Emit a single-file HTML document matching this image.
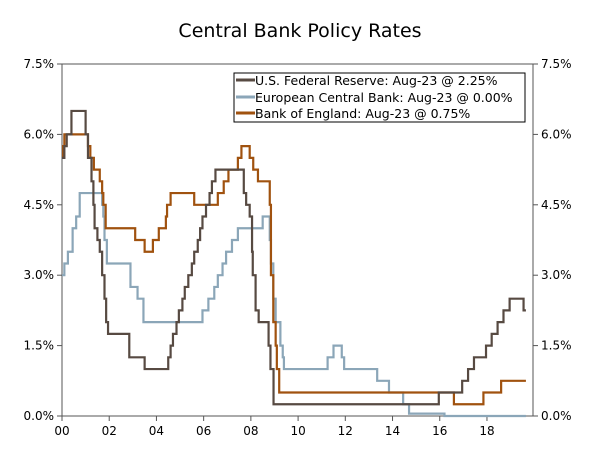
<!DOCTYPE html>
<html><head><meta charset="utf-8"><style>
body{margin:0;background:#fff;}
svg{display:block;font-family:"DejaVu Sans","Liberation Sans",sans-serif;}
</style></head><body>
<svg id="chart" width="600" height="452">
<text x="300" y="37" text-anchor="middle" font-size="19" fill="#000">Central Bank Policy Rates</text>
<g id="axes"></g>
<g id="lines"></g>
<g>
<rect x="234" y="73" width="291" height="49" fill="#fff" stroke="#000" stroke-width="1"/>
<line x1="236" y1="80" x2="255" y2="80" stroke="#574a42" stroke-width="3"/>
<text x="255" y="85" font-size="12.5">U.S. Federal Reserve: Aug-23 @ 2.25%</text>
<line x1="236" y1="97" x2="255" y2="97" stroke="#8ba6b8" stroke-width="3"/>
<text x="255" y="102" font-size="12.5">European Central Bank: Aug-23 @ 0.00%</text>
<line x1="236" y1="113" x2="255" y2="113" stroke="#a0520f" stroke-width="3"/>
<text x="255" y="118" font-size="12.5">Bank of England: Aug-23 @ 0.75%</text>
</g>
</svg>
<script>
const yTicks=[0,1.5,3,4.5,6,7.5];
const yTickLabels=["0.0%","1.5%","3.0%","4.5%","6.0%","7.5%"];
const xTicks=[2000,2002,2004,2006,2008,2010,2012,2014,2016,2018];
const xTickLabels=["00","02","04","06","08","10","12","14","16","18"];
const fedTimes=[2000.0,2000.1,2000.2,2000.4,2001.0,2001.1,2001.25,2001.33,2001.38,2001.5,2001.6,2001.7,2001.8,2001.87,2001.95,2002.85,2003.5,2004.5,2004.6,2004.7,2004.85,2004.95,2005.1,2005.2,2005.35,2005.5,2005.6,2005.75,2005.85,2005.95,2006.1,2006.25,2006.35,2006.5,2007.7,2007.8,2007.95,2008.05,2008.08,2008.2,2008.33,2008.75,2008.83,2008.96,2015.96,2016.95,2017.2,2017.45,2017.96,2018.2,2018.45,2018.7,2018.96,2019.55,2019.65];
const fedValues=[5.5,5.75,6.0,6.5,6.0,5.5,5.0,4.5,4.0,3.75,3.5,3.0,2.5,2.0,1.75,1.25,1.0,1.25,1.5,1.75,2.0,2.25,2.5,2.75,3.0,3.25,3.5,3.75,4.0,4.25,4.5,4.75,5.0,5.25,4.75,4.5,4.25,3.5,3.0,2.25,2.0,1.5,1.0,0.25,0.5,0.75,1.0,1.25,1.5,1.75,2.0,2.25,2.5,2.25,2.25];
const ecbTimes=[2000.0,2000.1,2000.25,2000.45,2000.6,2000.75,2001.7,2001.75,2001.8,2001.9,2002.9,2003.2,2003.45,2005.95,2006.2,2006.45,2006.6,2006.8,2006.95,2007.2,2007.45,2008.5,2008.8,2008.85,2008.95,2009.05,2009.25,2009.35,2009.4,2011.25,2011.5,2011.85,2011.95,2013.35,2013.85,2014.45,2014.7,2016.2,2019.65];
const ecbValues=[3.0,3.25,3.5,4.0,4.25,4.75,4.5,4.25,3.75,3.25,2.75,2.5,2.0,2.25,2.5,2.75,3.0,3.25,3.5,3.75,4.0,4.25,3.75,3.25,2.5,2.0,1.5,1.25,1.0,1.25,1.5,1.25,1.0,0.75,0.5,0.25,0.05,0.0,0.0];
const boeTimes=[2000.0,2000.05,2000.1,2001.1,2001.2,2001.35,2001.6,2001.7,2001.75,2001.85,2003.1,2003.5,2003.85,2004.1,2004.4,2004.45,2004.6,2005.6,2006.6,2006.85,2007.05,2007.45,2007.6,2007.95,2008.1,2008.3,2008.8,2008.85,2008.95,2009.05,2009.1,2009.2,2016.6,2017.85,2018.6,2019.65];
const boeValues=[5.5,5.75,6.0,5.75,5.5,5.25,5.0,4.75,4.5,4.0,3.75,3.5,3.75,4.0,4.25,4.5,4.75,4.5,4.75,5.0,5.25,5.5,5.75,5.5,5.25,5.0,4.5,3.0,2.0,1.5,1.0,0.5,0.25,0.5,0.75,0.75];

const X0=62,X1=533,Y0=416,Y1=64;
const xs=t=>X0+(t-2000)*(X1-X0)/19.95;
const ys=v=>Y0-v*(Y0-Y1)/7.5;
const NS="http://www.w3.org/2000/svg";
const axes=document.getElementById('axes'),lines=document.getElementById('lines');
function mk(tag,attrs,parent){const e=document.createElementNS(NS,tag);for(const k in attrs)e.setAttribute(k,attrs[k]);parent.appendChild(e);return e;}
const frame=mk('rect',{x:X0,y:Y1,width:X1-X0,height:Y0-Y1,fill:'none',stroke:'#555','stroke-width':1},axes);


yTicks.forEach((v,i)=>{
  const y=ys(v);
  mk('line',{x1:X0-5,x2:X0,y1:y,y2:y,stroke:'#555'},axes);
  mk('line',{x1:X1,x2:X1+5,y1:y,y2:y,stroke:'#555'},axes);
  const l=mk('text',{x:X0-8,y:y+4,'text-anchor':'end','font-size':12},axes);l.textContent=yTickLabels[i];
  
  
  const r=mk('text',{x:X1+8,y:y+4,'font-size':12},axes);r.textContent=yTickLabels[i];
  
  
});
xTicks.forEach((t,i)=>{
  const x=xs(t);
  mk('line',{x1:x,x2:x,y1:Y0,y2:Y0+5,stroke:'#555'},axes);
  const l=mk('text',{x:x,y:Y0+19,'text-anchor':'middle','font-size':12},axes);l.textContent=xTickLabels[i];
  
  
});
function step(times,vals,color,name){
  let d='M'+xs(times[0])+','+ys(vals[0]);
  for(let i=1;i<times.length;i++){d+=' H'+xs(times[i])+' V'+ys(vals[i]);}
  const p=mk('path',{d:d,fill:'none',stroke:color,'stroke-width':2.2},lines);
  
  
}
step(ecbTimes,ecbValues,'#8ba6b8','ecb-line');
step(boeTimes,boeValues,'#a0520f','boe-line');
step(fedTimes,fedValues,'#574a42','fed-line');
</script>
</body></html>
